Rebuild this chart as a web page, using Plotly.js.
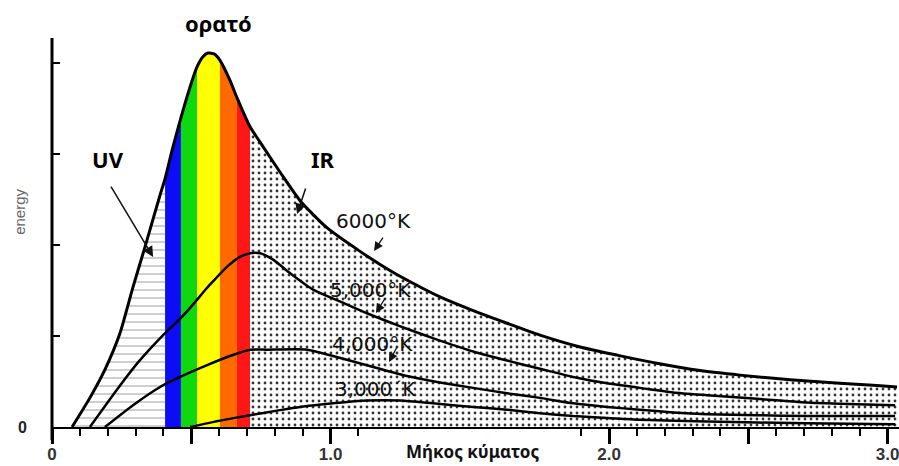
<!DOCTYPE html>
<html>
<head>
<meta charset="utf-8">
<script src="https://cdn.plot.ly/plotly-3.0.1.min.js"></script>
<style>html,body{margin:0;padding:0;background:#fff}#chart{width:899px;height:466px}</style>
</head>
<body>
<div id="chart"></div>
<script>
// wavelength (μm) and relative energy
const wl6000 = [0.072,0.136,0.190,0.244,0.291,0.334,0.388,0.406,0.431,0.463,0.496,0.521,0.542,0.560,0.582,0.603,0.639,0.664,0.711,0.747,0.819,0.890,0.987,1.106,1.224,1.346,1.393,1.512,1.634,1.752,1.896,2.029,2.172,2.327,2.470,2.650,2.829,2.948,3.034];
const e6000  = [0.00,0.32,0.63,1.03,1.54,1.98,2.55,2.73,3.04,3.40,3.74,3.96,4.07,4.11,4.10,4.03,3.81,3.62,3.30,3.13,2.80,2.49,2.19,1.93,1.70,1.50,1.43,1.28,1.14,1.01,0.88,0.79,0.70,0.62,0.57,0.52,0.48,0.46,0.44];

const wl5000 = [0.136,0.233,0.309,0.399,0.460,0.496,0.557,0.578,0.628,0.675,0.711,0.747,0.794,0.855,0.937,1.034,1.131,1.239,1.346,1.393,1.512,1.634,1.752,1.871,1.993,2.111,2.230,2.352,2.531,2.711,2.890,3.027];
const e5000  = [0.00,0.41,0.71,1.01,1.19,1.31,1.53,1.60,1.76,1.87,1.91,1.91,1.84,1.69,1.51,1.38,1.25,1.12,1.00,0.95,0.83,0.73,0.64,0.55,0.48,0.43,0.38,0.35,0.31,0.27,0.25,0.24];

const wl4000 = [0.190,0.291,0.388,0.460,0.557,0.639,0.711,0.772,0.916,1.009,1.153,1.275,1.393,1.512,1.634,1.752,1.871,1.993,2.111,2.230,2.352,2.531,2.711,2.890,3.027];
const e4000  = [0.00,0.24,0.44,0.55,0.68,0.78,0.85,0.85,0.85,0.78,0.66,0.56,0.49,0.43,0.37,0.32,0.26,0.22,0.19,0.16,0.14,0.13,0.12,0.12,0.12];

const wl3000 = [0.496,0.603,0.711,0.808,0.890,1.009,1.131,1.250,1.368,1.512,1.634,1.752,1.871,1.993,2.111,2.352,2.711,3.027];
const e3000  = [0.00,0.07,0.13,0.18,0.22,0.26,0.29,0.29,0.26,0.22,0.19,0.15,0.12,0.10,0.08,0.06,0.04,0.03];

// visible spectrum bands (μm)
const bandEdges  = [0.406,0.463,0.521,0.603,0.664,0.711];
const bandColors = ['#0c0cf6','#10d810','#ffff00','#ff6a00','#ff1616'];

const xTickVals = [0,0.5,1,2,2.5,3];
const xTickText = ['0','','1.0','2.0','','3.0'];
const xMinorVals = [0.1,0.2,0.3,0.4,0.6,0.7,0.8,0.9,1.1,1.9,2.1,2.2,2.3,2.4,2.6,2.7,2.8,2.9];
const yTickVals = [0,1,2,3,4];
const yTickText = ['0','','','',''];

function sub(xs, ys, a, b){
  const ox=[], oy=[];
  xs.forEach((x,i)=>{ if(x>=a-1e-9 && x<=b+1e-9){ ox.push(x); oy.push(ys[i]); } });
  return {x:ox, y:oy};
}

const traces = [];
const uv = sub(wl6000, e6000, 0, bandEdges[0]);
traces.push({x:uv.x, y:uv.y, type:'scatter', mode:'none', fill:'tozeroy', line:{shape:'spline', smoothing:0.6},
  fillcolor:'white', fillpattern:{shape:'-', size:8, solidity:0.12, fgcolor:'#9a9a9a', bgcolor:'white', fillmode:'replace'}, hoverinfo:'skip'});
const ir = sub(wl6000, e6000, bandEdges[bandEdges.length-1], 10);
traces.push({x:ir.x, y:ir.y, type:'scatter', mode:'none', fill:'tozeroy', line:{shape:'spline', smoothing:0.6},
  fillcolor:'white', fillpattern:{shape:'.', size:6, solidity:0.17, fgcolor:'#333', bgcolor:'white', fillmode:'replace'}, hoverinfo:'skip'});
for(let i=0;i<bandColors.length;i++){
  const s = sub(wl6000, e6000, bandEdges[i], bandEdges[i+1]);
  traces.push({x:s.x, y:s.y, type:'scatter', mode:'none', fill:'tozeroy', fillcolor:bandColors[i],
    line:{shape:'spline', smoothing:0.6}, hoverinfo:'skip'});
}
[[wl6000,e6000,3],[wl5000,e5000,2.5],[wl4000,e4000,2.5],[wl3000,e3000,2.5]].forEach(([x,y,w])=>{
  traces.push({x:x, y:y, type:'scatter', mode:'lines', line:{color:'black', width:w, shape:'spline', smoothing:0.6}, hoverinfo:'skip'});
});

const lblFont = {family:'DejaVu Sans', size:20, color:'#111'};
const bigFont = {family:'Noto Sans', size:22, color:'#000', weight:'bold'};
const P = {xanchor:'center', yanchor:'middle', showarrow:false};
const annotations = [
  Object.assign({text:'ορατό', x:0.196, y:1.0386, xref:'paper', yref:'paper', font:bigFont}, P),
  Object.assign({text:'UV', x:0.200, y:2.95, xref:'x', yref:'y', font:bigFont}, P),
  Object.assign({text:'IR', x:0.973, y:2.95, xref:'x', yref:'y', font:bigFont}, P),
  Object.assign({text:'Μήκος κύματος', x:0.497, y:-0.062, xref:'paper', yref:'paper', font:{family:'Noto Sans', size:17, color:'#111', weight:'bold'}}, P),
  Object.assign({text:'energy', x:-0.0378, y:0.553, xref:'paper', yref:'paper', textangle:-90, font:{family:'Liberation Sans', size:15, color:'#666'}}, P),
  Object.assign({text:'6000°K', x:1.156, y:2.264, xref:'x', yref:'y', font:lblFont}, P),
  Object.assign({text:'5,000°K', x:1.145, y:1.505, xref:'x', yref:'y', font:lblFont}, P),
  Object.assign({text:'4,000°K', x:1.149, y:0.912, xref:'x', yref:'y', font:lblFont}, P),
  Object.assign({text:'3,000´K', x:1.163, y:0.418, xref:'x', yref:'y', font:lblFont}, P),
  {text:'', x:0.363, y:1.868, xref:'x', yref:'y', showarrow:true, ax:-43, ay:-72, arrowhead:2, arrowsize:1.4, arrowwidth:1.5, arrowcolor:'#111'},
  {text:'', x:0.880, y:2.34, xref:'x', yref:'y', showarrow:true, ax:9, ay:-27, arrowhead:2, arrowsize:1.4, arrowwidth:1.5, arrowcolor:'#111'},
  {text:'', x:1.156, y:1.934, xref:'x', yref:'y', showarrow:true, ax:10, ay:-15, arrowhead:2, arrowsize:1.4, arrowwidth:1.3, arrowcolor:'#111'},
  {text:'', x:1.163, y:1.253, xref:'x', yref:'y', showarrow:true, ax:10, ay:-16, arrowhead:2, arrowsize:1.4, arrowwidth:1.3, arrowcolor:'#111'},
  {text:'', x:1.210, y:0.714, xref:'x', yref:'y', showarrow:true, ax:9, ay:-17, arrowhead:2, arrowsize:1.4, arrowwidth:1.3, arrowcolor:'#111'}
];

const layout = {
  width:899, height:466,
  margin:{l:52, r:0, t:38, b:39, pad:0},
  paper_bgcolor:'white', plot_bgcolor:'white',
  showlegend:false, hovermode:false,
  xaxis:{range:[0,3.041], showgrid:false, zeroline:false, showline:true, linecolor:'black', linewidth:2,
    ticks:'outside', ticklen:15, tickwidth:3, tickcolor:'black', tickmode:'array', tickvals:xTickVals, ticktext:xTickText,
    ticklabelstandoff:-4, ticklabeloverflow:'allow',
    tickfont:{family:'Liberation Sans', size:17, color:'#333', weight:'bold'},
    minor:{tickmode:'array', tickvals:xMinorVals, ticks:'outside', ticklen:7, tickwidth:2, tickcolor:'black', showgrid:false}},
  yaxis:{range:[0,4.275], showgrid:false, zeroline:false, showline:false,
    ticks:'inside', ticklen:8, tickwidth:2.5, tickcolor:'black', tickmode:'array', tickvals:yTickVals, ticktext:yTickText,
    ticklabelstandoff:24, ticklabeloverflow:'allow', tickfont:{family:'Liberation Sans', size:16, color:'#222', weight:'bold'}},
  shapes:[{type:'line', xref:'paper', yref:'paper', x0:0, x1:0, y0:-0.034, y1:1, line:{color:'black', width:3}}],
  annotations:annotations
};

Plotly.newPlot('chart', traces, layout, {staticPlot:true, displayModeBar:false});
</script>
</body>
</html>
